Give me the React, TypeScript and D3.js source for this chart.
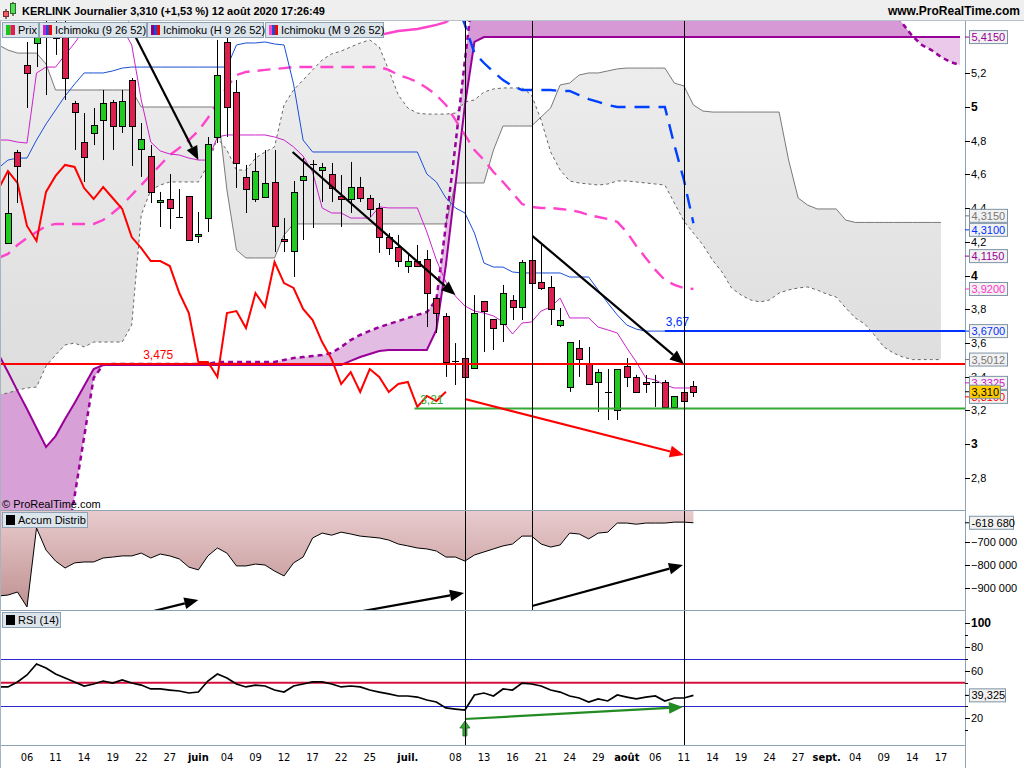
import React from 'react';
import * as d3 from 'd3';

// bar index 0 = 06 mai 2020, index 69 = 11 août 2020
const CANDLE_START = -2;
const LINE_START = -3;
const BLUE_DASH_START = 44;
const PINK_TOP_START = 30;
const CHIKOU_SHIFT = 26;

const opens = [4.193, 4.733, 5.249, 5.380, 5.427, 5.457, 5.504, 5.024, 4.792, 4.846,
  4.923, 5.030, 4.887, 5.160, 4.751, 4.709, 4.436, 4.454, 4.347, 4.472,
  4.234, 4.341, 4.822, 5.386, 5.089, 4.585, 4.454, 4.466, 4.555, 4.217,
  4.145, 4.567, 4.662, 4.626, 4.602, 4.472, 4.454, 4.525, 4.460, 4.401,
  4.228, 4.169, 4.056, 4.086, 4.098, 3.866, 3.760, 3.493, 3.510, 3.451,
  3.849, 3.742, 3.712, 3.855, 3.813, 4.092, 3.961, 3.932, 3.706, 3.338,
  3.570, 3.481, 3.368, 3.309, 3.202, 3.463, 3.398, 3.368, 3.362, 3.368,
  3.220, 3.309, 3.344];
const highs = [4.608, 4.745, 5.386, 5.504, 5.516, 5.516, 5.546, 5.036, 4.964, 4.994,
  5.101, 5.042, 5.101, 5.172, 4.905, 4.774, 4.496, 4.602, 4.513, 4.472,
  4.377, 4.822, 5.398, 5.427, 5.160, 4.656, 4.727, 4.745, 4.745, 4.341,
  4.561, 4.697, 4.685, 4.668, 4.668, 4.596, 4.674, 4.585, 4.478, 4.430,
  4.252, 4.240, 4.134, 4.181, 4.151, 3.872, 3.777, 3.599, 3.540, 3.884,
  3.849, 3.742, 3.944, 3.884, 4.092, 4.104, 4.181, 3.997, 3.807, 3.605,
  3.617, 3.576, 3.445, 3.445, 3.445, 3.510, 3.410, 3.410, 3.410, 3.380,
  3.285, 3.309, 3.374];
const lows = [4.193, 4.430, 4.994, 5.237, 5.071, 5.309, 5.042, 4.745, 4.555, 4.774,
  4.685, 4.745, 4.846, 4.650, 4.585, 4.430, 4.288, 4.276, 4.341, 4.211,
  4.193, 4.258, 4.786, 4.822, 4.519, 4.371, 4.436, 4.466, 4.139, 4.139,
  3.991, 4.211, 4.282, 4.436, 4.436, 4.288, 4.371, 4.436, 4.347, 4.134,
  4.122, 4.050, 4.015, 4.056, 3.694, 3.659, 3.398, 3.350, 3.398, 3.451,
  3.546, 3.558, 3.605, 3.736, 3.736, 3.914, 3.914, 3.706, 3.694, 3.309,
  3.398, 3.356, 3.190, 3.142, 3.142, 3.338, 3.309, 3.303, 3.220, 3.220,
  3.220, 3.243, 3.279];
const closes = [4.371, 4.650, 5.202, 5.439, 5.469, 5.409, 5.172, 4.970, 4.703, 4.893,
  5.024, 4.887, 5.036, 4.887, 4.810, 4.496, 4.448, 4.401, 4.341, 4.211,
  4.246, 4.780, 5.190, 5.000, 4.668, 4.513, 4.620, 4.549, 4.294, 4.205,
  4.496, 4.591, 4.656, 4.644, 4.519, 4.454, 4.525, 4.460, 4.395, 4.228,
  4.163, 4.086, 4.086, 4.056, 3.896, 3.777, 3.487, 3.487, 3.398, 3.777,
  3.789, 3.688, 3.896, 3.813, 4.080, 3.955, 3.926, 3.801, 3.736, 3.605,
  3.504, 3.356, 3.427, 3.309, 3.445, 3.398, 3.309, 3.356, 3.368, 3.220,
  3.285, 3.255, 3.310];

// Ichimoku journalier
const tenkan = [4.804, 4.804, 4.792, 4.786, 5.202, 5.237, 5.237, 5.309, 5.380, 5.457,
  5.469, 5.469, 5.469, 5.469, 5.368, 5.042, 4.792, 4.739, 4.721, 4.715,
  4.697, 4.685, 4.685, 4.822, 4.834, 4.834, 4.834, 4.834, 4.834, 4.822,
  4.804, 4.763, 4.709, 4.614, 4.401, 4.371, 4.371, 4.341, 4.341, 4.341,
  4.407, 4.401, 4.401, 4.401, 4.401, 4.258, 4.092, 3.961, 3.878, 3.819,
  3.789, 3.777, 3.760, 3.724, 3.653, 3.718, 3.724, 3.789, 3.813, 3.866,
  3.748, 3.748, 3.748, 3.694, 3.677, 3.659, 3.570, 3.487, 3.392, 3.380,
  3.350, 3.3325, 3.3325, 3.3325];
const kijun = [4.638, 4.685, 4.697, 4.697,
  4.804, 4.899, 4.982, 5.065, 5.136, 5.202, 5.202, 5.202, 5.214, 5.231,
  5.237, 5.237, 5.237, 5.237, 5.237, 5.237, 5.237, 5.237, 5.237, 5.237, 5.237,
  5.368, 5.380, 5.380, 5.386, 5.374, 5.368,
  5.136, 4.804,
  4.733, 4.733, 4.733, 4.733, 4.733, 4.733, 4.733, 4.733, 4.733, 4.733, 4.733, 4.733,
  4.602, 4.555, 4.460, 4.401, 4.371, 4.252, 4.074, 4.050, 4.050, 4.021,
  4.015, 4.015, 4.015, 4.015, 4.015,
  3.991, 3.991, 3.991, 3.914, 3.837, 3.766, 3.706, 3.682,
  3.670, 3.670, 3.670, 3.670, 3.670, 3.670];
const spanA = [5.368, 5.338, 5.320, 5.320, 5.320, 5.255, 5.101,
  5.101, 5.101, 5.101, 5.101, 5.101, 5.101, 5.101, 5.101,
  5.000, 5.000, 5.000, 5.000, 5.000, 5.000, 5.000, 5.000, 5.000,
  4.507, 4.151, 4.104, 4.104, 4.104, 4.104, 4.240,
  4.306, 4.306, 4.306, 4.306, 4.306, 4.306, 4.306, 4.306, 4.306, 4.306, 4.306, 4.306, 4.306, 4.306, 4.306, 4.306, 4.306,
  4.549, 4.549, 4.549, 4.549, 4.745, 4.887, 4.887, 4.887, 4.887,
  4.941, 4.994, 5.131, 5.142, 5.190, 5.202, 5.202, 5.214, 5.226,
  5.231, 5.231, 5.231, 5.231, 5.231,
  5.142, 5.125, 5.012, 4.976,
  4.970, 4.970, 4.970, 4.970, 4.970, 4.970, 4.970, 4.970,
  4.685, 4.460, 4.418, 4.395, 4.395, 4.395, 4.329,
  4.315, 4.315, 4.315, 4.315, 4.315, 4.315, 4.315, 4.315, 4.315, 4.315];
const spanB = [3.291, 3.303, 3.320, 3.332, 3.338, 3.463, 3.528, 3.588, 3.599, 3.576,
  3.605, 3.605, 3.605, 3.605,
  3.706, 4.359, 4.507, 4.537,
  4.555, 4.555, 4.555, 4.555,
  4.656, 4.816, 4.745, 4.626, 4.626, 4.697, 4.733, 4.763,
  5.012, 5.101, 5.160, 5.220, 5.279, 5.315, 5.332, 5.356, 5.380, 5.398,
  5.356, 5.220, 5.071, 4.994, 4.964, 4.958, 4.958, 4.958, 4.964,
  5.030, 5.042, 5.089, 5.107, 5.113, 5.113, 5.113, 5.071, 4.923, 4.733,
  4.626, 4.561, 4.549, 4.543, 4.537, 4.543, 4.561, 4.561, 4.555, 4.549,
  4.543, 4.537, 4.430, 4.323, 4.252, 4.181, 4.092, 4.021, 3.926, 3.884,
  3.855, 3.843, 3.855, 3.896, 3.914, 3.926, 3.932, 3.914, 3.890, 3.872,
  3.807, 3.748, 3.712, 3.647, 3.576, 3.540, 3.516, 3.501, 3.501, 3.501, 3.501];

// Ichimoku hebdo / mensuel
const pinkDashed = [4.104, 4.128, 4.181, 4.223, 4.258, 4.294,
  4.306, 4.306, 4.306, 4.306, 4.306,
  4.329, 4.371, 4.418, 4.478, 4.537, 4.596, 4.656, 4.715, 4.757, 4.804,
  4.858, 4.935, 5.024, 5.119, 5.190, 5.208, 5.214, 5.220, 5.226, 5.231,
  5.237, 5.237, 5.237, 5.237, 5.237, 5.237, 5.237, 5.237, 5.237, 5.237,
  5.220, 5.190, 5.172, 5.148, 5.113, 5.071, 5.012, 4.923, 4.834, 4.745,
  4.685, 4.614, 4.555, 4.490, 4.424, 4.407, 4.401, 4.401, 4.395, 4.389,
  4.377, 4.359, 4.347, 4.335, 4.318, 4.258, 4.175, 4.104, 4.033, 3.973,
  3.944, 3.926, 3.920];
const blueDashed = [5.813, 5.635, 5.487, 5.320, 5.261, 5.208, 5.160, 5.125,
  5.101, 5.101, 5.101, 5.101, 5.095, 5.095, 5.071, 5.047, 5.030, 5.012,
  5.000, 5.000, 5.000, 5.000, 5.000, 5.000, 4.774, 4.567, 4.310];
const pinkTop = [5.427, 5.427, 5.427, 5.427, 5.427, 5.427, 5.427, 5.427,
  5.439, 5.451, 5.457, 5.463, 5.475, 5.487, 5.504, 5.546];
const purpleSolid = [3.534, 3.427, 3.315, 3.208, 3.095, 2.982, 3.047, 3.148, 3.243, 3.344, 3.445,
  3.469, 3.469, 3.469, 3.469, 3.469, 3.469, 3.469, 3.469, 3.469, 3.469, 3.469, 3.469, 3.469,
  3.469, 3.469, 3.469, 3.469, 3.469, 3.469, 3.469, 3.469, 3.469, 3.469, 3.469, 3.469, 3.469,
  3.493, 3.516, 3.534, 3.552,
  3.558, 3.558, 3.558, 3.558, 3.558,
  3.677, 4.062, 4.537, 5.012, 5.386,
  5.415, 5.415, 5.415, 5.415, 5.415, 5.415, 5.415, 5.415, 5.415, 5.415,
  5.415, 5.415, 5.415, 5.415, 5.415, 5.415, 5.415, 5.415, 5.415, 5.415,
  5.415, 5.415, 5.415, 5.415, 5.415, 5.415, 5.415, 5.415, 5.415, 5.415,
  5.415, 5.415, 5.415, 5.415, 5.415, 5.415, 5.415, 5.415, 5.415, 5.415,
  5.415, 5.415, 5.415, 5.415, 5.415, 5.415, 5.415, 5.415, 5.415, 5.415, 5.415];
const purpleDashed = [-0.104, 0.246, 0.596, 0.947, 1.291, 1.641, 1.991, 2.347, 2.691, 3.042, 3.392, 3.469,
  3.475, 3.475, 3.475, 3.475, 3.475, 3.475, 3.475, 3.475, 3.475, 3.475, 3.475,
  3.487, 3.487, 3.487, 3.487, 3.487, 3.487, 3.487,
  3.499, 3.510, 3.516, 3.522, 3.528, 3.540, 3.576, 3.617, 3.647, 3.671,
  3.694, 3.712, 3.730, 3.748, 3.766, 3.783, 3.855, 4.300, 4.774, 5.279,
  5.754, 5.754, 5.754, 5.754, 5.754, 5.754, 5.754, 5.754, 5.754, 5.754,
  5.754, 5.754, 5.754, 5.754, 5.754, 5.754, 5.754, 5.754, 5.754, 5.754,
  5.754, 5.754, 5.754, 5.754, 5.754, 5.754, 5.754, 5.754, 5.754, 5.754,
  5.754, 5.754, 5.754, 5.754, 5.754, 5.754, 5.754, 5.754, 5.754, 5.754,
  5.754, 5.754, 5.754,
  5.665, 5.576, 5.493, 5.421, 5.368, 5.338, 5.297, 5.267, 5.249];

const accumDistrib = [-933000, -929000, -916000, -980000, -641000, -736000, -783000, -813000, -791000, -787000,
  -787000, -770000, -766000, -761000, -761000, -749000, -770000, -753000, -761000, -774000,
  -809000, -821000, -761000, -727000, -749000, -804000, -804000, -796000, -800000, -826000,
  -847000, -791000, -766000, -684000, -663000, -672000, -659000, -667000, -676000, -680000,
  -684000, -693000, -710000, -718000, -727000, -731000, -740000, -766000, -766000, -783000,
  -757000, -744000, -731000, -718000, -710000, -676000, -676000, -710000, -723000, -714000,
  -663000, -667000, -688000, -663000, -659000, -620000, -620000, -625000, -620000, -620000,
  -620000, -616000, -616000, -618680];
const rsi = [46.4, 46.4, 50.6, 56.5, 65.8, 62.4, 57.3, 53.9, 50.6, 47.2,
  48.9, 51.4, 49.7, 52.3, 49.7, 48.0, 44.7, 44.7, 43.8, 43.0,
  41.3, 42.1, 51.4, 57.3, 53.9, 48.9, 46.4, 48.0, 47.2, 43.8,
  42.1, 47.2, 48.9, 50.6, 50.6, 48.9, 46.4, 47.2, 46.4, 43.8,
  42.1, 40.5, 38.8, 38.8, 37.9, 35.4, 33.7, 28.7, 27.8, 27.0,
  39.6, 41.3, 38.8, 44.7, 43.8, 49.7, 48.9, 47.2, 43.8, 42.1,
  38.8, 37.1, 33.7, 36.3, 34.6, 39.6, 37.9, 36.3, 37.9, 38.8,
  34.6, 37.1, 37.1, 39.325];

const dateTicks = [
  { i: 0, t: '06' }, { i: 3, t: '11' }, { i: 6, t: '14' }, { i: 9, t: '19' }, { i: 12, t: '22' },
  { i: 15, t: '27' }, { i: 18, t: 'juin', b: true }, { i: 21, t: '04' }, { i: 24, t: '09' },
  { i: 27, t: '12' }, { i: 30, t: '17' }, { i: 33, t: '22' }, { i: 36, t: '25' },
  { i: 40, t: 'juil.', b: true }, { i: 45, t: '08' }, { i: 48, t: '13' }, { i: 51, t: '16' },
  { i: 54, t: '21' }, { i: 57, t: '24' }, { i: 60, t: '29' }, { i: 63, t: 'août', b: true },
  { i: 66, t: '06' }, { i: 69, t: '11' }, { i: 72, t: '14' }, { i: 75, t: '19' }, { i: 78, t: '24' },
  { i: 81, t: '27' }, { i: 84, t: 'sept.', b: true }, { i: 87, t: '04' }, { i: 90, t: '09' },
  { i: 93, t: '14' }, { i: 96, t: '17' },
];
const priceTicks = [5.2, 5, 4.8, 4.6, 4.4, 4.2, 4, 3.8, 3.6, 3.4, 3.2, 3, 2.8];
const adTicks = [-700000, -800000, -900000];
const rsiTicks = [100, 80, 60, 20];

const priceBoxes = [
  { v: 5.415, t: '5,4150', c: '#990099' },
  { v: 4.315, t: '4,3150', c: '#777777' },
  { v: 4.31, t: '4,3100', c: '#0033ff' },
  { v: 4.115, t: '4,1150', c: '#990099' },
  { v: 3.92, t: '3,9200', c: '#ff33cc' },
  { v: 3.67, t: '3,6700', c: '#0033ff' },
  { v: 3.5012, t: '3,5012', c: '#777777' },
  { v: 3.3325, t: '3,3325', c: '#cc22cc' },
  { v: 3.31, t: '3,3100', c: '#ff0000' },
];

const hLevels = [
  { v: 3.475, from: -3, c: '#ff0000', t: '3,475', at: 12.2 },
  { v: 3.21, from: 40.7, c: '#33aa33', t: '3,21', at: 41.3 },
  { v: 3.67, from: 67, c: '#0033ff', t: '3,67', at: 67.1 },
];
const priceArrows = [
  { i1: 10.6, v1: 5.504, i2: 18.0, v2: 4.685, c: '#000000' },
  { i1: 27.9, v1: 4.733, i2: 45.0, v2: 3.884, c: '#000000' },
  { i1: 53.1, v1: 4.234, i2: 69.0, v2: 3.475, c: '#000000' },
  { i1: 46.0, v1: 3.267, i2: 69.0, v2: 2.935, c: '#ff0000' },
];
const adArrows = [
  { i1: 10.8, v1: -1023000, i2: 18.0, v2: -950000 },
  { i1: 31.8, v1: -1023000, i2: 45.9, v2: -920000 },
  { i1: 53.05, v1: -976000, i2: 68.9, v2: -800000 },
];
const rsiArrow = { i1: 46.0, v1: 19.4, i2: 68.9, v2: 29.5 };
const markers = [{ i: 46.0, to: 'rsi' }, { i: 53.08, to: 'ad' }, { i: 69.0, to: 'rsi' }];

const FONT = "'Liberation Sans', Arial, sans-serif";
const AXIS_X = 965;

const fmt = (v: number, d = 1) => v.toFixed(d).replace('.', ',');

function Arrow({ x1, y1, x2, y2, color, w = 2.2, head = 14 }: any) {
  const a = Math.atan2(y2 - y1, x2 - x1);
  const hw = head * 0.42;
  const bx = x2 - head * Math.cos(a);
  const by = y2 - head * Math.sin(a);
  const pts = [
    [x2, y2],
    [bx + hw * Math.sin(a), by - hw * Math.cos(a)],
    [bx - hw * Math.sin(a), by + hw * Math.cos(a)],
  ].map(p => p.join(',')).join(' ');
  return (
    <g>
      <line x1={x1} y1={y1} x2={bx} y2={by} stroke={color} strokeWidth={w} />
      <polygon points={pts} fill={color} />
    </g>
  );
}

function Tab({ x, y, w, label, colors }: any) {
  const sw = 9 / colors.length;
  return (
    <g>
      <rect x={x + 0.5} y={y + 0.5} width={w} height={15} fill="#dce5ec" stroke="#8ea2b4" />
      {colors.map((c: string, k: number) => (
        <rect key={k} x={x + 4 + k * sw} y={y + 3} width={sw} height={10} fill={c} />
      ))}
      <text x={x + 16} y={y + 12} fontSize={11} fontFamily={FONT} fill="#000">{label}</text>
    </g>
  );
}

function Box({ y, text, color, fill = '#f2f2f2', w = 38 }: any) {
  return (
    <g>
      <line x1={AXIS_X} x2={970} y1={y} y2={y} stroke={color} />
      <rect x={969.5} y={y - 6.5} width={w} height={13} fill={fill} stroke="#7f93a5" />
      <text x={971.5} y={y + 4} fontSize={11} fontFamily={FONT} fill={color}>{text}</text>
    </g>
  );
}

export default function App() {
  const x = d3.scaleLinear().domain([0, 69]).range([27, 683.9]);
  const yP = d3.scaleLinear().domain([5, 3]).range([107, 444]);
  const yA = d3.scaleLinear().domain([-700000, -900000]).range([541.7, 588.3]);
  const yR = d3.scaleLinear().domain([100, 20]).range([623.3, 718.3]);

  const pts = (arr: number[], start: number, ys: any) =>
    arr.map((v, k) => [x(start + k), ys(v)] as [number, number]);
  const line = d3.line();

  const chikou = d3.range(LINE_START, 45).map(i => [x(i), yP(closes[i + CHIKOU_SHIFT - CANDLE_START])] as [number, number]);

  const cloud = spanA.map((a, k) => ({ i: LINE_START + k, a, b: spanB[k] }));
  const grayArea = d3.area<any>().x(d => x(d.i)).y0(d => yP(d.a)).y1(d => yP(d.b))(cloud) || '';

  const purple = purpleSolid.map((s, k) => ({ i: LINE_START + k, s, d: purpleDashed[k] }));
  const purpleShades = [
    { from: -3, to: 8, fill: '#d7a0d7' },
    { from: 8, to: 46, fill: '#e3bce3' },
    { from: 46, to: 93, fill: '#d699d6' },
    { from: 93, to: 98, fill: '#ebc9eb' },
  ];
  const pArea = d3.area<any>().x(d => x(d.i)).y0(d => yP(d.s)).y1(d => yP(d.d));

  const adPts = pts(accumDistrib, LINE_START, yA);
  const adArea = d3.area<[number, number]>().x(d => d[0]).y0(511).y1(d => d[1])(adPts) || '';

  // collision-spread for axis value boxes
  const boxes = priceBoxes.map(b => ({ ...b, y: yP(b.v) })).sort((a, b) => a.y - b.y);
  for (let it = 0; it < 60; it++) {
    for (let k = 1; k < boxes.length; k++) {
      const d = boxes[k].y - boxes[k - 1].y;
      if (d < 14) { const m = (14 - d) / 2; boxes[k].y += m; boxes[k - 1].y -= m; }
    }
  }

  const px = (v: number) => Math.round(v) + 0.5;

  return (
    <div style={{ width: 1024, height: 768 }}>
      <style>{'body{margin:0;background:#fff;}'}</style>
      <svg width={1024} height={768} style={{ display: 'block' }} fontFamily={FONT}>
        <defs>
          <clipPath id="cp"><rect x={1} y={20} width={AXIS_X - 1} height={490} /></clipPath>
          <clipPath id="ca"><rect x={1} y={511} width={AXIS_X - 1} height={99} /></clipPath>
          <clipPath id="cr"><rect x={1} y={611} width={AXIS_X - 1} height={134} /></clipPath>
          <linearGradient id="gcloud" gradientUnits="userSpaceOnUse" x1={0} y1={40} x2={0} y2={400}>
            <stop offset="0" stopColor="#eeeeee" />
            <stop offset="1" stopColor="#dcdcdc" />
          </linearGradient>
          <linearGradient id="gad" gradientUnits="userSpaceOnUse" x1={0} y1={511} x2={0} y2={610}>
            <stop offset="0" stopColor="#e8cbcd" />
            <stop offset="1" stopColor="#bf9090" />
          </linearGradient>
        </defs>
        <rect x={0} y={0} width={1024} height={768} fill="#fff" />

        {/* price panel */}
        <g clipPath="url(#cp)">
          {purpleShades.map((s, k) => (
            <path key={k} d={pArea(purple.filter(d => d.i >= s.from && d.i <= s.to)) || ''} fill={s.fill} />
          ))}
          <path d={grayArea} fill="url(#gcloud)" />
          <path d={line(pts(spanA, LINE_START, yP)) || ''} fill="none" stroke="#7a7a7a" strokeWidth={1} />
          <path d={line(pts(spanB, LINE_START, yP)) || ''} fill="none" stroke="#666" strokeWidth={1} strokeDasharray="3,3" />
          <path d={line(pts(purpleSolid, LINE_START, yP)) || ''} fill="none" stroke="#990099" strokeWidth={2} />
          <path d={line(pts(purpleDashed, LINE_START, yP)) || ''} fill="none" stroke="#990099" strokeWidth={2.5} strokeDasharray="5,4" />
          <path d={line(pts(pinkDashed, LINE_START, yP)) || ''} fill="none" stroke="#ff44cc" strokeWidth={2.4} strokeDasharray="13,8" />
          <path d={line(pts(blueDashed, BLUE_DASH_START, yP)) || ''} fill="none" stroke="#0040ff" strokeWidth={2.4} strokeDasharray="15,9" />
          <path d={line(pts(pinkTop, PINK_TOP_START, yP)) || ''} fill="none" stroke="#ff44cc" strokeWidth={2.4} />
          <path d={line(pts(kijun, LINE_START, yP)) || ''} fill="none" stroke="#1a4fd8" strokeWidth={1} />
          <path d={line(pts(tenkan, LINE_START, yP)) || ''} fill="none" stroke="#cc22cc" strokeWidth={1} />
          <path d={line(chikou) || ''} fill="none" stroke="#ff0000" strokeWidth={2} />

          {opens.map((o, k) => {
            const i = CANDLE_START + k;
            const c = closes[k];
            const cx = px(x(i));
            const top = yP(Math.max(o, c));
            const bot = yP(Math.min(o, c));
            const h = bot - top;
            return (
              <g key={k}>
                <line x1={cx} x2={cx} y1={yP(highs[k])} y2={yP(lows[k])} stroke="#000" />
                {h < 1.2
                  ? <line x1={cx - 3.5} x2={cx + 3.5} y1={px(top)} y2={px(top)} stroke="#000" />
                  : <rect x={cx - 3} y={px(top)} width={6} height={Math.max(1, Math.round(h))}
                      fill={c >= o ? '#1ecb1e' : '#dd1f4f'} stroke="#000" />}
              </g>
            );
          })}

          {hLevels.map((h, k) => (
            <g key={k}>
              <line x1={x(h.from)} x2={AXIS_X} y1={yP(h.v)} y2={yP(h.v)} stroke={h.c} strokeWidth={2} />
              <text x={x(h.at)} y={yP(h.v) - 5} fontSize={12} fill={h.c}>{h.t}</text>
            </g>
          ))}

          {priceArrows.map((a, k) => (
            <Arrow key={k} x1={x(a.i1)} y1={yP(a.v1)} x2={x(a.i2)} y2={yP(a.v2)} color={a.c} />
          ))}
        </g>

        {/* accumulation / distribution */}
        <g clipPath="url(#ca)">
          <path d={adArea} fill="url(#gad)" />
          <path d={line(adPts) || ''} fill="none" stroke="#000" strokeWidth={1} />
          {adArrows.map((a, k) => (
            <Arrow key={k} x1={x(a.i1)} y1={yA(a.v1)} x2={x(a.i2)} y2={yA(a.v2)} color="#000" />
          ))}
        </g>

        {/* RSI */}
        <g clipPath="url(#cr)">
          <line x1={0} x2={AXIS_X} y1={px(yR(70))} y2={px(yR(70))} stroke="#2a2ad0" />
          <line x1={0} x2={AXIS_X} y1={px(yR(30))} y2={px(yR(30))} stroke="#2a2ad0" />
          <line x1={0} x2={AXIS_X} y1={yR(50)} y2={yR(50)} stroke="#d4103c" strokeWidth={2} />
          <path d={line(pts(rsi, LINE_START, yR)) || ''} fill="none" stroke="#000" strokeWidth={1.7} />
          <Arrow x1={x(rsiArrow.i1)} y1={yR(rsiArrow.v1)} x2={x(rsiArrow.i2)} y2={yR(rsiArrow.v2)} color="#228b22" />
          {(() => {
            const cx = x(rsiArrow.i1);
            const t = yR(rsiArrow.v1) + 2;
            const p = [[cx, t], [cx - 5, t + 7], [cx - 2, t + 7], [cx - 2, t + 15], [cx + 2, t + 15], [cx + 2, t + 7], [cx + 5, t + 7]];
            return <polygon points={p.map(q => q.join(',')).join(' ')} fill="#33aa33" stroke="#1d6b1d" strokeWidth={0.8} />;
          })()}
        </g>

        {/* vertical markers */}
        {markers.map((m, k) => (
          <line key={k} x1={px(x(m.i))} x2={px(x(m.i))} y1={20} y2={m.to === 'rsi' ? 745 : 611} stroke="#000" />
        ))}

        {/* panel borders */}
        <line x1={0} x2={AXIS_X} y1={510.5} y2={510.5} stroke="#8ea2b4" />
        <line x1={0} x2={AXIS_X} y1={610.5} y2={610.5} stroke="#8ea2b4" />
        <line x1={0} x2={AXIS_X} y1={745.5} y2={745.5} stroke="#8ea2b4" />
        <line x1={0.5} x2={0.5} y1={20} y2={768} stroke="#a7b3bf" />
        <line x1={AXIS_X + 0.5} x2={AXIS_X + 0.5} y1={20} y2={768} stroke="#8ea2b4" />

        {/* price axis */}
        {priceTicks.map(v => {
          const bold = Math.abs(v - Math.round(v)) < 1e-9;
          return (
            <g key={v}>
              <line x1={AXIS_X} x2={970} y1={px(yP(v))} y2={px(yP(v))} stroke="#000" />
              <text x={971} y={yP(v) + 4} fontSize={bold ? 12 : 11} fontWeight={bold ? 'bold' : 'normal'}>
                {bold ? String(v) : fmt(v)}
              </text>
            </g>
          );
        })}
        {boxes.map((b, k) => <Box key={k} y={b.y} text={b.t} color={b.c} />)}
        <Box y={yP(closes[closes.length - 1])} text={fmt(closes[closes.length - 1], 3)} color="#000" fill="#ffcc00" w={31} />

        {/* A/D axis */}
        {adTicks.map(v => (
          <g key={v}>
            <line x1={AXIS_X} x2={970} y1={px(yA(v))} y2={px(yA(v))} stroke="#000" />
            <text x={971} y={yA(v) + 4} fontSize={11}>{d3.format(',')(v).replace(/,/g, ' ')}</text>
          </g>
        ))}
        <Box y={yA(accumDistrib[accumDistrib.length - 1])} text="-618 680" color="#000" w={44} />

        {/* RSI axis */}
        {d3.range(10, 101, 10).map(v => (
          <line key={v} x1={AXIS_X} x2={968} y1={px(yR(v))} y2={px(yR(v))} stroke="#000" />
        ))}
        {rsiTicks.map(v => (
          <g key={v}>
            <line x1={AXIS_X} x2={970} y1={px(yR(v))} y2={px(yR(v))} stroke="#000" />
            <text x={971} y={yR(v) + 4} fontSize={v === 100 ? 12 : 11} fontWeight={v === 100 ? 'bold' : 'normal'}>{v}</text>
          </g>
        ))}
        <Box y={yR(rsi[rsi.length - 1])} text={fmt(rsi[rsi.length - 1], 3)} color="#000" w={36} />

        {/* date axis */}
        {dateTicks.map(d => (
          <text key={d.i + d.t} x={x(d.i)} y={761} fontSize={11} textAnchor="middle"
            fontWeight={d.b ? 'bold' : 'normal'}
            style={{ fontFamily: "'Liberation Sans Narrow', 'DejaVu Sans Condensed', Arial, sans-serif" }}>{d.t}</text>
        ))}

        {/* header */}
        <rect x={0} y={0} width={1024} height={20} fill="#efefef" />
        <line x1={0} x2={1024} y1={20.5} y2={20.5} stroke="#b8c2cc" />
        <line x1={6} x2={6} y1={9} y2={19} stroke="#000" />
        <rect x={3.5} y={11.5} width={5} height={5} fill="#ef5d66" stroke="#7a2a2a" />
        <line x1={13} x2={13} y1={2} y2={16} stroke="#000" />
        <rect x={10.5} y={3.5} width={5} height={10} fill="#55dd55" stroke="#2a6a2a" />
        <text x={22} y={15} fontSize={11} fontWeight="bold">KERLINK Journalier 3,310 (+1,53 %) 12 août 2020 17:26:49</text>
        <text x={1020} y={15} fontSize={12} fontWeight="bold" textAnchor="end">www.ProRealTime.com</text>

        {/* legend tabs */}
        <Tab x={2} y={22} w={36} label="Prix" colors={['#18c818', '#dd1f4f']} />
        <Tab x={39} y={22} w={107} label="Ichimoku (9 26 52)" colors={['#cc22cc', '#1a4fd8', '#ff0000']} />
        <Tab x={147} y={22} w={116} label="Ichimoku (H 9 26 52)" colors={['#880088', '#1a4fd8', '#ff0000']} />
        <Tab x={265} y={22} w={118} label="Ichimoku (M 9 26 52)" colors={['#ff44cc', '#1a4fd8', '#ff0000']} />
        <Tab x={2} y={512} w={85} label="Accum Distrib" colors={['#000']} />
        <Tab x={2} y={612} w={58} label="RSI (14)" colors={['#000']} />
        <text x={2} y={508} fontSize={11}>© ProRealTime.com</text>
      </svg>
    </div>
  );
}
